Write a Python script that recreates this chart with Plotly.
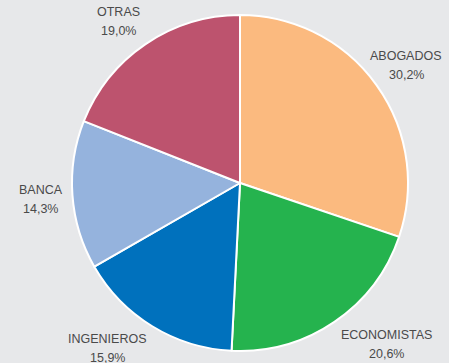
import math
import plotly.graph_objects as go

# Distribution of profiles (share, %)
categories = ["ABOGADOS", "ECONOMISTAS", "INGENIEROS", "BANCA", "OTRAS"]
shares = [30.2, 20.6, 15.9, 14.3, 19.0]
value_labels = ["30,2%", "20,6%", "15,9%", "14,3%", "19,0%"]
colors = ["#fbba7f", "#25b34e", "#0071bd", "#95b3dd", "#bd536e"]

W, H = 449, 363
BG = "#e7e8ea"
TEXT = "#4a4a4a"
FONT_SIZE = 12.5
LINE_GAP = 19          # distance between the two label lines (px)
CAP = 9                # approx cap height (px)

# pie geometry in pixels
CX, CY, R = 240, 183, 168
LABEL_R = 178
EDGE_PAD = 7

# approximate Arial advance widths (per 1000 em) used to size label blocks
ADV = {"A": 667, "B": 667, "C": 722, "D": 722, "E": 667, "G": 778, "I": 278,
       "M": 833, "N": 722, "O": 778, "R": 722, "S": 667, "T": 611,
       ",": 278, "%": 889}


def text_width(s):
    return sum(ADV.get(ch, 556) for ch in s) * FONT_SIZE / 1000.0


fig = go.Figure(go.Pie(
    labels=categories,
    values=shares,
    sort=False,
    direction="clockwise",
    rotation=0,
    marker=dict(colors=colors, line=dict(color="white", width=2)),
    textinfo="none",
    hoverinfo="label+percent",
    showlegend=False,
    domain=dict(x=[(CX - R) / W, (CX + R) / W],
                y=[(H - CY - R) / H, (H - CY + R) / H]),
))

annotations = []
total = sum(shares)
cum = 0.0
for name, val, vlab in zip(categories, shares, value_labels):
    mid = (cum + val / 2) / total * 2 * math.pi
    cum += val
    s, c = math.sin(mid), math.cos(mid)
    px = CX + LABEL_R * s
    py = CY - LABEL_R * c
    w = max(text_width(name), text_width(vlab))
    h = LINE_GAP + CAP
    # horizontal placement: block grows away from the pie, kept inside the chart
    if s >= 0:
        left = px
    else:
        left = px - w
    left = min(max(left, EDGE_PAD), W - EDGE_PAD - w)
    xc = left + w / 2
    # vertical placement: block grows away from the pie
    k = min(1.0, abs(c) / 0.3)
    yc = py - math.copysign(h / 2 * k, c)
    y1 = yc - LINE_GAP / 2
    y2 = yc + LINE_GAP / 2
    for txt, yy in ((name, y1), (vlab, y2)):
        annotations.append(dict(
            x=xc / W, y=1 - yy / H, xref="paper", yref="paper",
            text=txt, showarrow=False, xanchor="center", yanchor="middle",
            font=dict(family="Liberation Sans, Arial, sans-serif",
                      size=FONT_SIZE, color=TEXT),
        ))

fig.update_layout(
    width=W, height=H,
    margin=dict(l=0, r=0, t=0, b=0),
    paper_bgcolor=BG, plot_bgcolor=BG,
    annotations=annotations,
)

fig.write_html("out.html")
